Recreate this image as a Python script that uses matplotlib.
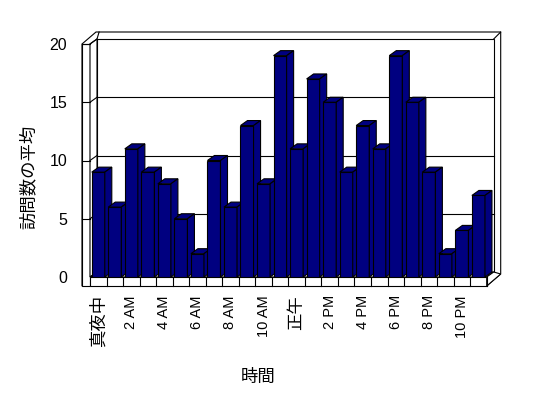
import matplotlib.pyplot as plt
from matplotlib.patches import Polygon

plt.rcParams['font.family'] = ['Liberation Sans', 'Noto Sans CJK JP', 'DejaVu Sans']

# data
hours = list(range(24))
visits = [9, 6, 11, 9, 8, 5, 2, 10, 6, 13, 8, 19, 11, 17, 15, 9, 13, 11, 19, 15, 9, 2, 4, 7]
tick_pos = [0, 2, 4, 6, 8, 10, 12, 14, 16, 18, 20, 22]
tick_labels = ['真夜中', '2 AM', '4 AM', '6 AM', '8 AM', '10 AM',
               '正午', '2 PM', '4 PM', '6 PM', '8 PM', '10 PM']
y_ticks = [0, 5, 10, 15, 20]

NAVY = '#000080'
LW = 0.8

fig = plt.figure(figsize=(5.48, 3.98), dpi=100)
# front plane of the 3d box, in pixels
L, R, B, T = 90, 486.7, 277, 44
ax = fig.add_axes([L / 548, (398 - B) / 398, (R - L) / 548, (B - T) / 398])
ax.set_xlim(-0.5, 23.5)
ax.set_ylim(0, 20)
for s in ax.spines.values():
    s.set_visible(False)

# pixel offsets -> data units
sx = (R - L) / 24
sy = (B - T) / 20
dx, dy = 7 / sx, 5 / sy        # depth of box
wx, wy = 7 / sx, 7 / sy        # wall thickness
f = 9 / sy                     # floor thickness
xl = -0.5 - 8 / sx             # outer left of left wall
xr = 23.5


def poly(pts, z, fc='white'):
    ax.add_patch(Polygon(pts, closed=True, facecolor=fc, edgecolor='black',
                         linewidth=LW, clip_on=False, zorder=z))


def line(xs, ys, z=3):
    ax.plot(xs, ys, color='black', linewidth=LW, clip_on=False, zorder=z)


# outer silhouette of walls and floor
poly([(xl, -f), (xl, 20), (xl + dx + wx, 20 + dy + wy), (xr + dx + wx, 20 + dy + wy),
      (xr + dx + wx, -f + dy + wy), (xr, -f)], 1)

# back wall with gridlines
poly([(-0.5 + dx, dy), (xr + dx, dy), (xr + dx, 20 + dy), (-0.5 + dx, 20 + dy)], 2)
for v in y_ticks[1:-1]:
    line([-0.5 + dx, xr + dx], [v + dy, v + dy])
line([xr + dx, xr + dx + wx], [20 + dy, 20 + dy + wy])
line([-0.5 + dx, -0.5 + dx + wx * 0.3], [20 + dy, 20 + dy + wy])

# left wall: front face and inner face
poly([(xl, -f), (-0.5, -f), (-0.5, 20), (xl, 20)], 4)
poly([(-0.5, 0), (-0.5, 20), (-0.5 + dx, 20 + dy), (-0.5 + dx, dy)], 4)
for v in y_ticks[1:]:
    line([xl, -0.5], [v, v], 5)
    line([-0.5, -0.5 + dx], [v, v + dy], 5)

# floor
poly([(-0.5, 0), (xr, 0), (xr + dx, dy), (-0.5 + dx, dy)], 4)
poly([(-0.5, -f), (xr, -f), (xr, 0), (-0.5, 0)], 4)
poly([(xr, -f), (xr, 0), (xr + dx, dy), (xr + dx + wx, -f + dy + wy)], 4)
for b in range(24):
    line([b + 0.5, b + 0.5], [-f, 0], 5)

# bars with top and side faces
bw = 0.79
bars = ax.bar(hours, visits, width=bw, color=NAVY, edgecolor='black', linewidth=LW)
for i, (h, v) in enumerate(zip(hours, visits)):
    z = 10 + i
    bars[i].set_zorder(z)
    x0, x1 = h - bw / 2, h + bw / 2
    poly([(x0, v), (x1, v), (x1 + dx, v + dy), (x0 + dx, v + dy)], z, NAVY)
    poly([(x1, 0), (x1 + dx, dy), (x1 + dx, v + dy), (x1, v)], z, NAVY)

# ticks
ax.set_xticks(tick_pos)
ax.set_xticklabels(tick_labels, rotation=90)
for lbl in ax.get_xticklabels():
    lbl.set_fontsize(12.5 if not lbl.get_text().isascii() else 10.5)
ax.tick_params(axis='x', length=0, pad=13)
ax.set_yticks(y_ticks)
ax.tick_params(axis='y', length=0, pad=16.5, labelsize=11.5)

fig.text(258 / 548, 1 - 377 / 398, '時間', ha='center', va='center', fontsize=12.5)
fig.text(28 / 548, 1 - 177 / 398, '訪問数の平均', ha='center', va='center',
         rotation=90, fontsize=12.5)

plt.savefig('out.png', dpi=100)
